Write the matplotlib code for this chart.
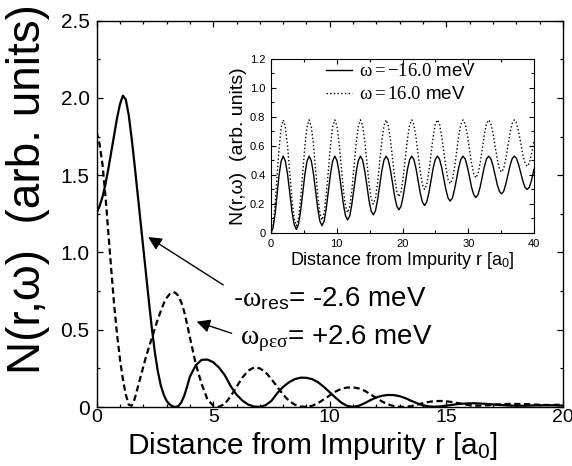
import numpy as np
import matplotlib
matplotlib.use("Agg")
import matplotlib.pyplot as plt
from matplotlib.ticker import MultipleLocator

plt.rcParams['font.family'] = ['Liberation Sans', 'DejaVu Sans']
plt.rcParams['mathtext.fontset'] = 'custom'
plt.rcParams['mathtext.rm'] = 'Liberation Serif'
plt.rcParams['mathtext.it'] = 'Liberation Serif:italic'
plt.rcParams['mathtext.bf'] = 'Liberation Serif:bold'
plt.rcParams['mathtext.sf'] = 'Liberation Sans'

# main panel: LDOS vs distance (finer sampling near the origin)
r_main = np.r_[np.arange(0, 4, 0.125), np.arange(4, 20.001, 0.25)]
n_res_neg = [1.256, 1.30, 1.36, 1.44, 1.54, 1.65, 1.76, 1.87,
             1.96, 2.015, 1.99, 1.89, 1.74, 1.57, 1.39, 1.21,
             1.03, 0.85, 0.67, 0.50, 0.35, 0.23, 0.14, 0.08,
             0.04, 0.017, 0.005, 0.0, 0.006, 0.028, 0.07, 0.13,
             0.196, 0.27, 0.305, 0.307, 0.29, 0.255, 0.205, 0.135,
             0.08, 0.042, 0.016, 0.003, 0.001, 0.012, 0.04, 0.09,
             0.13, 0.16, 0.18, 0.19, 0.189, 0.18, 0.16, 0.13,
             0.095, 0.06, 0.028, 0.007, 0.001, 0.008, 0.025, 0.045,
             0.062, 0.073, 0.078, 0.077, 0.07, 0.057, 0.04, 0.024,
             0.011, 0.004, 0.002, 0.004, 0.009, 0.014, 0.019, 0.022,
             0.024, 0.024, 0.022, 0.02, 0.017, 0.014, 0.011, 0.009,
             0.008, 0.008, 0.009, 0.01, 0.011, 0.011, 0.011, 0.01,
             0.009]
n_res_pos = [1.78, 1.70, 1.57, 1.37, 1.13, 0.89, 0.66, 0.47,
             0.31, 0.18, 0.08, 0.015, 0.008, 0.05, 0.12, 0.19,
             0.26, 0.33, 0.39, 0.45, 0.51, 0.57, 0.62, 0.67,
             0.705, 0.73, 0.742, 0.74, 0.72, 0.68, 0.62, 0.54,
             0.45, 0.28, 0.15, 0.05, 0.008, 0.002, 0.02, 0.07,
             0.13, 0.19, 0.235, 0.256, 0.25, 0.225, 0.18, 0.13,
             0.08, 0.04, 0.015, 0.003, 0.001, 0.008, 0.025, 0.05,
             0.075, 0.1, 0.118, 0.126, 0.127, 0.12, 0.105, 0.082,
             0.058, 0.035, 0.017, 0.006, 0.001, 0.001, 0.006, 0.015,
             0.025, 0.033, 0.038, 0.039, 0.037, 0.032, 0.025, 0.018,
             0.012, 0.009, 0.009, 0.011, 0.014, 0.017, 0.019, 0.02,
             0.02, 0.019, 0.018, 0.016, 0.014, 0.013, 0.013, 0.014,
             0.015]

# inset: omega = -16 meV (solid) and +16 meV (dotted)
r_inset = [0, 0.31, 0.62, 0.92, 1.23, 1.54, 1.85,
           2.18, 2.52, 2.85, 3.18, 3.52, 3.85,
           4.18, 4.5, 4.83, 5.15, 5.48, 5.8,
           6.13, 6.45, 6.78, 7.1, 7.43, 7.75,
           8.08, 8.4, 8.73, 9.05, 9.38, 9.7,
           10.03, 10.35, 10.68, 11.0, 11.33, 11.65,
           11.98, 12.3, 12.63, 12.95, 13.28, 13.6,
           13.93, 14.25, 14.58, 14.9, 15.23, 15.55,
           15.88, 16.2, 16.53, 16.85, 17.18, 17.5,
           17.83, 18.15, 18.48, 18.8, 19.13, 19.45,
           19.78, 20.1, 20.43, 20.75, 21.08, 21.4,
           21.73, 22.05, 22.38, 22.7, 23.03, 23.35,
           23.68, 24.0, 24.33, 24.65, 24.98, 25.3,
           25.63, 25.95, 26.28, 26.6, 26.93, 27.25,
           27.58, 27.9, 28.23, 28.55, 28.88, 29.2,
           29.53, 29.85, 30.18, 30.5, 30.83, 31.15,
           31.48, 31.8, 32.13, 32.45, 32.78, 33.1,
           33.43, 33.75, 34.08, 34.4, 34.73, 35.05,
           35.38, 35.7, 36.03, 36.35, 36.68, 37.0,
           37.33, 37.65, 37.98, 38.3, 38.63, 38.95,
           39.28, 39.6, 40.0]
n_m16 = [0, 0.036, 0.13, 0.265, 0.40, 0.495, 0.53,
         0.496, 0.404, 0.278, 0.151, 0.059, 0.025,
         0.059, 0.151, 0.278, 0.404, 0.496, 0.53,
         0.498, 0.41, 0.29, 0.17, 0.082, 0.05,
         0.082, 0.17, 0.29, 0.41, 0.498, 0.53,
         0.50, 0.42, 0.31, 0.20, 0.119, 0.09,
         0.119, 0.20, 0.31, 0.42, 0.50, 0.53,
         0.503, 0.429, 0.328, 0.226, 0.152, 0.125,
         0.152, 0.226, 0.328, 0.429, 0.503, 0.53,
         0.505, 0.438, 0.345, 0.253, 0.185, 0.16,
         0.185, 0.253, 0.345, 0.438, 0.505, 0.53,
         0.507, 0.445, 0.36, 0.275, 0.213, 0.19,
         0.213, 0.275, 0.36, 0.445, 0.507, 0.53,
         0.509, 0.453, 0.375, 0.298, 0.241, 0.22,
         0.241, 0.298, 0.375, 0.453, 0.509, 0.53,
         0.511, 0.459, 0.388, 0.316, 0.264, 0.245,
         0.264, 0.316, 0.388, 0.459, 0.511, 0.53,
         0.513, 0.465, 0.40, 0.335, 0.287, 0.27,
         0.287, 0.335, 0.40, 0.465, 0.513, 0.53,
         0.515, 0.473, 0.415, 0.358, 0.315, 0.30,
         0.315, 0.36, 0.44]
n_p16 = [0, 0.052, 0.195, 0.39, 0.585, 0.728, 0.78,
         0.731, 0.598, 0.415, 0.233, 0.099, 0.05,
         0.099, 0.233, 0.415, 0.598, 0.731, 0.78,
         0.734, 0.608, 0.435, 0.263, 0.136, 0.09,
         0.136, 0.263, 0.435, 0.608, 0.734, 0.78,
         0.737, 0.62, 0.46, 0.30, 0.183, 0.14,
         0.183, 0.30, 0.46, 0.62, 0.737, 0.78,
         0.741, 0.635, 0.49, 0.345, 0.239, 0.2,
         0.239, 0.345, 0.49, 0.635, 0.741, 0.78,
         0.744, 0.648, 0.515, 0.383, 0.286, 0.25,
         0.286, 0.383, 0.515, 0.648, 0.744, 0.78,
         0.748, 0.66, 0.54, 0.42, 0.332, 0.3,
         0.332, 0.42, 0.54, 0.66, 0.748, 0.78,
         0.751, 0.67, 0.56, 0.45, 0.369, 0.34,
         0.369, 0.45, 0.56, 0.67, 0.751, 0.78,
         0.753, 0.68, 0.58, 0.48, 0.407, 0.38,
         0.407, 0.48, 0.58, 0.68, 0.753, 0.78,
         0.756, 0.69, 0.60, 0.51, 0.444, 0.42,
         0.444, 0.51, 0.60, 0.69, 0.756, 0.78,
         0.759, 0.70, 0.62, 0.54, 0.481, 0.46,
         0.481, 0.54, 0.64]

label_neg = r'-$\mathrm{\omega}_{\mathsf{res}}$= -2.6 meV'
label_pos = r'$\mathrm{\omega}_{\mathrm{\rho\varepsilon\sigma}}$= +2.6 meV'
legend_labels = [r'$\mathrm{\omega = -16.0}$ meV', r'$\mathrm{\omega = 16.0}$ meV']
xlabel_txt = r'Distance from Impurity r [a$_\mathsf{0}$]'
ylabel_txt = 'N(r,ω)  (arb. units)'

fig = plt.figure(figsize=(5.72, 4.66), dpi=100)

# ---- main axes
ax = fig.add_axes([0.169, 0.1266, 0.815, 0.829])
ax.plot(r_main, n_res_neg, color='k', lw=1.6)
ax.plot(r_main, n_res_pos, color='k', lw=1.6, dashes=(2.8, 1.6))
ax.set_xlim(0, 20)
ax.set_ylim(0, 2.5)
ax.xaxis.set_major_locator(MultipleLocator(5))
ax.xaxis.set_minor_locator(MultipleLocator(1))
ax.yaxis.set_minor_locator(MultipleLocator(0.25))
ax.set_yticks([0, 0.5, 1.0, 1.5, 2.0, 2.5])
ax.set_yticklabels(['0', '0.5', '1.0', '1.5', '2.0', '2.5'])
ax.tick_params(which='both', direction='in', top=True, right=True, width=0.9)
ax.tick_params(which='major', length=4.5, labelsize=15)
ax.tick_params(axis='x', which='major', labelsize=14, pad=1.5)
ax.tick_params(axis='y', which='major', pad=5)
ax.tick_params(which='minor', length=2.5)
for s in ax.spines.values():
    s.set_linewidth(1.0)

fig.text(0.049, 0.594, ylabel_txt, rotation=90, ha='center',
         va='center', fontsize=33)
fig.text(0.547, 0.042, xlabel_txt, ha='center', va='center', fontsize=21.5)

# arrows + labels
ax.annotate('', xy=(2.21, 1.10), xytext=(5.43, 0.79),
            arrowprops=dict(arrowstyle='-|>', color='k', lw=1.0,
                            mutation_scale=20, shrinkA=0, shrinkB=0))
ax.annotate('', xy=(4.29, 0.552), xytext=(5.79, 0.477),
            arrowprops=dict(arrowstyle='-|>', color='k', lw=1.0,
                            mutation_scale=20, shrinkA=0, shrinkB=0))
ax.text(5.85, 0.65, label_neg, fontsize=20, ha='left', va='baseline')
ax.text(6.16, 0.405, label_pos, fontsize=20, ha='left', va='baseline')

# ---- inset
axi = fig.add_axes([0.4738, 0.5, 0.4598, 0.3734])
axi.plot(r_inset, n_m16, color='k', lw=1.0, label=legend_labels[0])
axi.plot(r_inset, n_p16, color='k', lw=1.0, ls=':', label=legend_labels[1])
axi.set_xlim(0, 40)
axi.set_ylim(0, 1.2)
axi.xaxis.set_major_locator(MultipleLocator(10))
axi.xaxis.set_minor_locator(MultipleLocator(5))
axi.yaxis.set_minor_locator(MultipleLocator(0.1))
axi.set_yticks([0, 0.2, 0.4, 0.6, 0.8, 1.0, 1.2])
axi.set_yticklabels(['0', '0.2', '0.4', '0.6', '0.8', '1.0', '1.2'])
axi.tick_params(which='both', direction='in', top=True, right=True, width=0.8)
axi.tick_params(which='major', length=3.5, labelsize=8, pad=4)
axi.tick_params(which='minor', length=2)
axi.set_xlabel(xlabel_txt, fontsize=13, labelpad=1)
axi.set_ylabel(ylabel_txt, fontsize=14, labelpad=2)
axi.legend(loc='upper left', bbox_to_anchor=(0.21, 0.975), frameon=False,
           fontsize=13.5, handlelength=1.4, handletextpad=0.35,
           labelspacing=0.3, borderpad=0, borderaxespad=0)

fig.savefig('out.png', dpi=100)
